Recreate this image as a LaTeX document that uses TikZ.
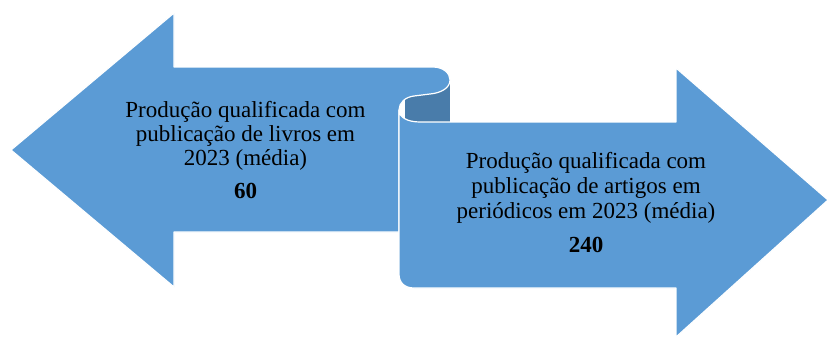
\documentclass[tikz,border=0pt]{standalone}
\usepackage{fontspec}
\setmainfont{Liberation Serif}
\definecolor{ribbonlight}{HTML}{5B9BD5}
\definecolor{ribbondark}{HTML}{497CAA}
\tikzset{
  ribbon/.style={fill=ribbonlight, draw=white, line width=1.2pt, line join=round},
  backside/.style={fill=ribbondark},
  txt/.style={anchor=base, inner sep=0pt, font=\fontsize{23}{25}\selectfont},
  num/.style={anchor=base, inner sep=0pt, font=\fontsize{23}{25}\selectfont\bfseries}
}
\begin{document}
\begin{tikzpicture}[x=1pt,y=-1pt]
\useasboundingbox (0,0) rectangle (829,338);
% back side of the curl
\path[backside] (405,80) rectangle (450,122);
% left ribbon
\path[ribbon] (11,150) -- (174,13) -- (174,67) -- (433,67)
  .. controls (443,67) and (450,73) .. (450,80)
  .. controls (450,88) and (441,93) .. (430,94) -- (414,96)
  .. controls (405,97) and (399,103) .. (399,110)
  -- (399,232) -- (174,232) -- (174,287) -- cycle;
% right ribbon
\path[ribbon] (399,110) .. controls (399,117) and (407,122) .. (420,122)
  -- (676,122) -- (676,68) -- (828,200) -- (676,337) -- (676,288)
  -- (414,288) .. controls (405,288) and (399,283) .. (399,274) -- cycle;
% texts
\node[txt] (la) at (245.5,117) {Produção qualificada com};
\node[txt] (lb) at (245.5,141) {publicação de livros em};
\node[txt] (lc) at (245.5,165) {2023 (média)};
\node[num] (ln) at (245.5,198) {60};
\node[txt] (ra) at (586,168) {Produção qualificada com};
\node[txt] (rb) at (586,193) {publicação de artigos em};
\node[txt] (rc) at (586,218) {periódicos em 2023 (média)};
\node[num] (rn) at (586,252) {240};
\end{tikzpicture}
\end{document}
